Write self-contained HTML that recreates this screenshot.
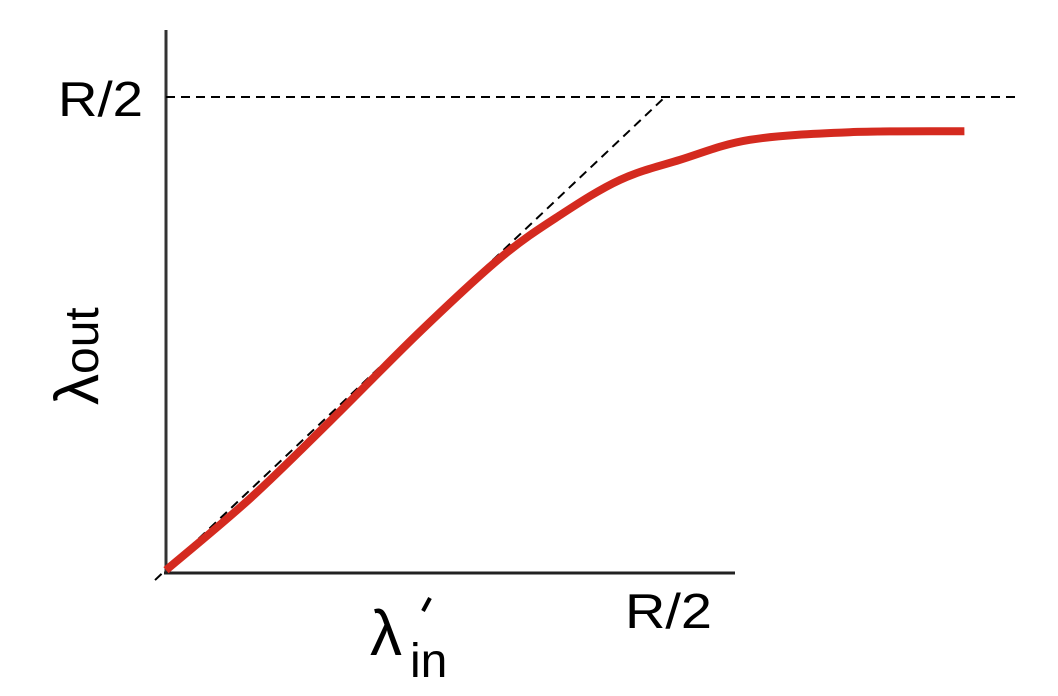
<!DOCTYPE html>
<html><head><meta charset="utf-8"><style>
html,body{margin:0;padding:0;background:#fff;}
svg{display:block;font-family:"Liberation Sans",sans-serif;}
</style></head><body>
<svg id="chart" width="1058" height="696" viewBox="0 0 1058 696">
<line x1="166" y1="30" x2="166" y2="573" stroke="#333" stroke-width="3"/>
<line x1="164" y1="573" x2="735" y2="573" stroke="#222" stroke-width="3"/>
<text x="58" y="116" font-size="49" textLength="85" lengthAdjust="spacingAndGlyphs">R/2</text>
<text x="625" y="628" font-size="49" textLength="87" lengthAdjust="spacingAndGlyphs">R/2</text>
<g transform="translate(98,405) rotate(-90)">
<text x="0" y="0" font-size="62">λ<tspan font-size="48" dy="0">out</tspan></text>
</g>
<g>
<text x="370" y="655" font-size="64">λ</text>
<text x="410" y="677" font-size="48">in</text>
<line x1="423" y1="611" x2="430" y2="598" stroke="#000" stroke-width="4"/>
</g>
<g id="plot"></g>
</svg>
<script>
const xs=[0,0.084,0.164,0.255,0.335,0.395,0.455,0.515,0.585,0.685,0.8];
const ys=[0.003,0.078,0.159,0.254,0.331,0.376,0.413,0.434,0.455,0.463,0.464];
const capacity=[0.5];
const X=v=>166+v*998, Y=v=>573-v*952;
const g=document.getElementById('plot');
const NS='http://www.w3.org/2000/svg';
const h=document.createElementNS(NS,'line');
h.setAttribute('x1',X(0));h.setAttribute('x2',1020);
h.setAttribute('y1',Y(capacity[0]));h.setAttribute('y2',Y(capacity[0]));
h.setAttribute('stroke','#000');h.setAttribute('stroke-width','2');h.setAttribute('stroke-dasharray','9,6');


g.appendChild(h);
const d=document.createElementNS(NS,'line');
d.setAttribute('x1',X(-0.011));d.setAttribute('y1',Y(-0.0074));
d.setAttribute('x2',X(capacity[0]));d.setAttribute('y2',Y(capacity[0]));
d.setAttribute('stroke','#000');d.setAttribute('stroke-width','2');d.setAttribute('stroke-dasharray','9,6');


g.appendChild(d);
const P=xs.map((x,i)=>[X(x),Y(ys[i])]);
let s='M'+P[0][0]+','+P[0][1];
for(let i=0;i<P.length-1;i++){
 const p0=P[Math.max(i-1,0)],p1=P[i],p2=P[i+1],p3=P[Math.min(i+2,P.length-1)];
 const c1=[p1[0]+(p2[0]-p0[0])/6,p1[1]+(p2[1]-p0[1])/6];
 const c2=[p2[0]-(p3[0]-p1[0])/6,p2[1]-(p3[1]-p1[1])/6];
 s+=` C${c1[0]},${c1[1]} ${c2[0]},${c2[1]} ${p2[0]},${p2[1]}`;
}
const c=document.createElementNS(NS,'path');
c.setAttribute('d',s);c.setAttribute('fill','none');c.setAttribute('stroke','#d42a1f');
c.setAttribute('stroke-width','8');c.setAttribute('stroke-linecap','butt');


g.appendChild(c);
</script>
</body></html>
